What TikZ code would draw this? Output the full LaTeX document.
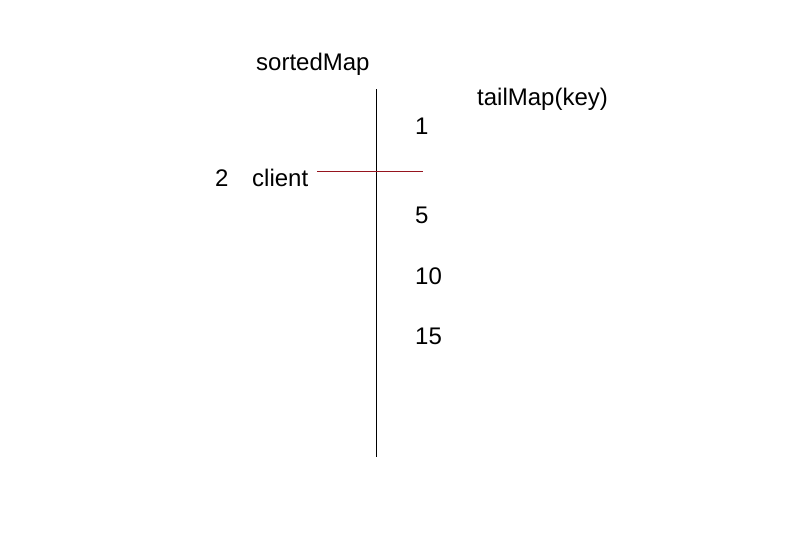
\documentclass[tikz,border=0pt]{standalone}
\usepackage{fontspec}
\setmainfont{Liberation Sans}
\usepackage{tikz}

\begin{document}
\begin{tikzpicture}[x=1pt, y=-1pt, thin, lbl/.style = {inner sep=0pt, anchor=base west, font=\fontsize{24}{28}\selectfont}]
        \useasboundingbox (0,0) rectangle (800,552);

        \node[lbl] (sorted) at (256,70) {sortedMap};
        \node[lbl] (tail) at (477,105) {tailMap(key)};
        \node[lbl] (k1) at (415,134) {1};
        \node[lbl] (k2) at (215,186) {2};
        \node[lbl] (client) at (252,186) {client};
        \node[lbl] (k5) at (415,223) {5};
        \node[lbl] (k10) at (415,284) {10};
        \node[lbl] (k15) at (415,344) {15};

        \coordinate (top) at (376,89);
        \coordinate (bottom) at (376,457);
        \coordinate (cutstart) at (317,171);
        \coordinate (cutend) at (423,171);

        \draw (top) -- (bottom);
        \draw[color={rgb,255:red,150;green,20;blue,30}] (cutstart) -- (cutend);

    \end{tikzpicture}
\end{document}
